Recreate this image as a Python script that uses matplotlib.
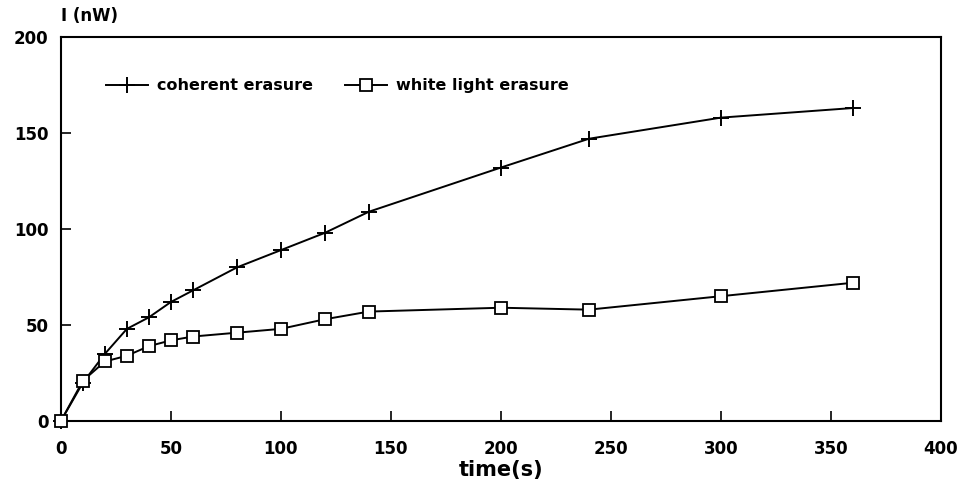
import matplotlib
matplotlib.use("Agg")
import matplotlib.pyplot as plt

time_s = [0, 10, 20, 30, 40, 50, 60, 80, 100, 120, 140, 200, 240, 300, 360]
coherent = [0, 20, 35, 48, 54, 62, 68, 80, 89, 98, 109, 132, 147, 158, 163]
white = [0, 21, 31, 34, 39, 42, 44, 46, 48, 53, 57, 59, 58, 65, 72]
xticks = [0, 50, 100, 150, 200, 250, 300, 350, 400]
yticks = [0, 50, 100, 150, 200]

plt.rcParams['font.family'] = ['DejaVu Sans']
plt.rcParams['font.weight'] = 'bold'

fig = plt.figure(figsize=(9.67, 4.93), dpi=100)
ax = fig.add_axes([0.063, 0.146, 0.910, 0.779])

ax.plot(time_s, coherent, color='black', lw=1.4, marker='+', ms=12, mew=1.4,
        label='coherent erasure', clip_on=False, zorder=3)
ax.plot(time_s, white, color='black', lw=1.4, marker='s', ms=9, mew=1.3,
        mfc='white', mec='black', label='white light erasure', clip_on=False,
        zorder=4)

ax.set_xlim(0, 400)
ax.set_ylim(0, 200)
ax.set_xticks(xticks)
ax.set_yticks(yticks)
ax.set_xticklabels([str(v) for v in xticks], fontsize=12, fontweight='bold')
ax.set_yticklabels([str(v) for v in yticks], fontsize=12, fontweight='bold')
ax.tick_params(direction='in', length=7, width=1.2)
ax.tick_params(axis='x', pad=14)
ax.tick_params(axis='y', pad=9)
for s in ax.spines.values():
    s.set_linewidth(1.5)

ax.set_xlabel('time(s)', fontsize=15, fontweight='bold', labelpad=1)
ax.text(0.0, 1.03, 'I (nW)', transform=ax.transAxes, fontsize=12,
        fontweight='bold', ha='left', va='bottom')

leg = ax.legend(loc='upper left', bbox_to_anchor=(0.035, 0.93), ncol=2,
                frameon=False, fontsize=11.5, handlelength=2.6,
                columnspacing=2.0, handletextpad=0.6)
for t in leg.get_texts():
    t.set_fontweight('bold')

fig.savefig('out.png', dpi=100)
